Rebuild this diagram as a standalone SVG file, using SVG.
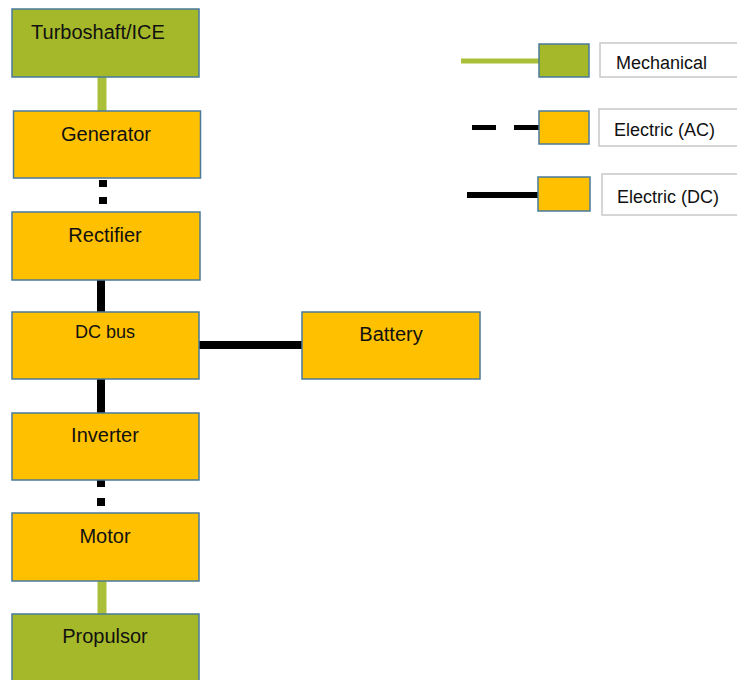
<svg xmlns="http://www.w3.org/2000/svg" width="737" height="680" viewBox="0 0 737 680">
<style>
.box{stroke:#4a7a9c;stroke-width:1.5}
.y{fill:#ffc000}
.g{fill:#a5b82a}
.lab{fill:#fff;stroke:#c8c8c8;stroke-width:1.5}
text{font-family:"Liberation Sans",Arial,sans-serif;fill:#111;font-size:20px;text-anchor:middle}
.lt{font-size:18px;text-anchor:start}
.mech{stroke:#a9c038;fill:none}
.dc{stroke:#000;fill:none}
</style>
<rect width="737" height="680" fill="#fff"/>
<g id="connectors">
<line class="mech" x1="102" y1="77" x2="102" y2="111" stroke-width="9"/>
<rect x="99" y="180" width="8" height="7" fill="#000"/>
<rect x="99" y="197" width="8" height="7" fill="#000"/>
<line class="dc" x1="101" y1="280" x2="101" y2="312" stroke-width="8"/>
<line class="dc" x1="199" y1="345" x2="302" y2="345" stroke-width="8"/>
<line class="dc" x1="101" y1="379" x2="101" y2="413" stroke-width="8"/>
<rect x="97" y="480" width="8" height="7" fill="#000"/>
<rect x="97" y="498" width="8" height="8" fill="#000"/>
<line class="mech" x1="102" y1="581" x2="102" y2="614" stroke-width="9"/>
</g>
<g id="turboshaft"><rect class="box g" x="12" y="9" width="187" height="68"/><text x="98" y="39">Turboshaft/ICE</text></g>
<g id="generator"><rect class="box y" x="13.5" y="111" width="187" height="67"/><text x="106" y="141">Generator</text></g>
<g id="rectifier"><rect class="box y" x="12" y="212" width="188" height="68"/><text x="105" y="242">Rectifier</text></g>
<g id="dcbus"><rect class="box y" x="12" y="312" width="187" height="67"/><text x="105" y="338" style="font-size:18px">DC bus</text></g>
<g id="battery"><rect class="box y" x="302" y="312" width="178" height="67"/><text x="391" y="341">Battery</text></g>
<g id="inverter"><rect class="box y" x="12" y="413" width="187" height="67"/><text x="105" y="442">Inverter</text></g>
<g id="motor"><rect class="box y" x="12" y="513" width="187" height="68"/><text x="105" y="543">Motor</text></g>
<g id="propulsor"><rect class="box g" x="12" y="614" width="187" height="70"/><text x="105" y="643">Propulsor</text></g>
<g id="legend-mechanical">
<line class="mech" x1="461" y1="61" x2="539" y2="61" stroke-width="5"/>
<rect class="box g" x="539" y="44" width="50" height="33"/>
<rect class="lab" x="600" y="43" width="150" height="34"/>
<text class="lt" x="616" y="69">Mechanical</text>
</g>
<g id="legend-ac">
<line class="dc" x1="472" y1="127.5" x2="496" y2="127.5" stroke-width="5"/>
<line class="dc" x1="514" y1="127.5" x2="539" y2="127.5" stroke-width="5"/>
<rect class="box y" x="539" y="111" width="50" height="33"/>
<rect class="lab" x="599" y="109" width="150" height="37"/>
<text class="lt" x="614" y="136">Electric (AC)</text>
</g>
<g id="legend-dc">
<line class="dc" x1="467" y1="195" x2="538" y2="195" stroke-width="6"/>
<rect class="box y" x="538" y="177" width="52" height="34"/>
<rect class="lab" x="602" y="174" width="150" height="41"/>
<text class="lt" x="617" y="203">Electric (DC)</text>
</g>
</svg>
